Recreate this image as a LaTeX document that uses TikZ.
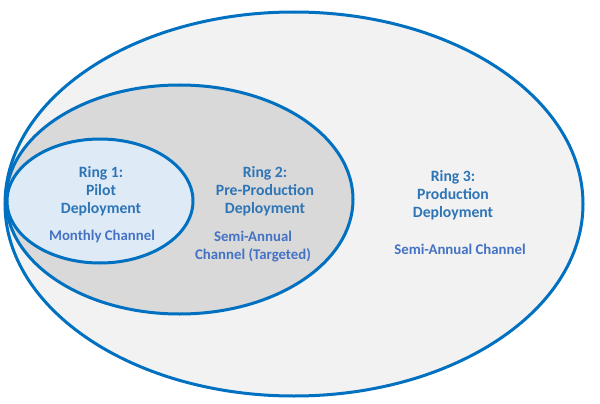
\documentclass[tikz,border=0pt]{standalone}
\usepackage{fontspec}
\setmainfont{Carlito}
\usetikzlibrary{shapes.geometric}

\definecolor{ringblue}{HTML}{0070C0}
\definecolor{titleblue}{HTML}{2E75B6}
\definecolor{chanblue}{HTML}{4472C4}
\definecolor{pilotfill}{HTML}{DEEBF7}
\definecolor{prefill}{HTML}{D9D9D9}
\definecolor{prodfill}{HTML}{F2F2F2}

\begin{document}
\begin{tikzpicture}[x=1pt,y=-1pt,
    ring/.style={ellipse,draw=ringblue,line width=3pt,inner sep=0pt},
    title/.style={font=\bfseries\fontsize{15.7}{18}\selectfont,text=titleblue,
                  align=center,anchor=base},
    channel/.style={font=\bfseries\fontsize{14.8}{18}\selectfont,text=chanblue,
                    align=center,anchor=base}]

  \useasboundingbox (0,0) rectangle (600,404);

  % the three rings
  \node[ring,fill=prodfill,minimum width=578pt,minimum height=384pt] (R3) at (294,204) {};
  \node[ring,fill=prefill,minimum width=347pt,minimum height=229pt]  (R2) at (179.5,199.5) {};
  \node[ring,fill=pilotfill,minimum width=186pt,minimum height=124pt] (R1) at (100,201) {};

  % labels (base = last line)
  \node[title]   (T1) at (101,213) {Ring 1:\\Pilot\\Deployment};
  \node[channel] (C1) at (102,240) {Monthly Channel};
  \node[title]   (T2) at (265,213) {Ring 2:\\Pre-Production\\Deployment};
  \node[channel] (C2) at (253,259) {Semi-Annual\\Channel (Targeted)};
  \node[title]   (T3) at (453,217) {Ring 3:\\Production\\Deployment};
  \node[channel] (C3) at (460,254) {Semi-Annual Channel};
\end{tikzpicture}
\end{document}
